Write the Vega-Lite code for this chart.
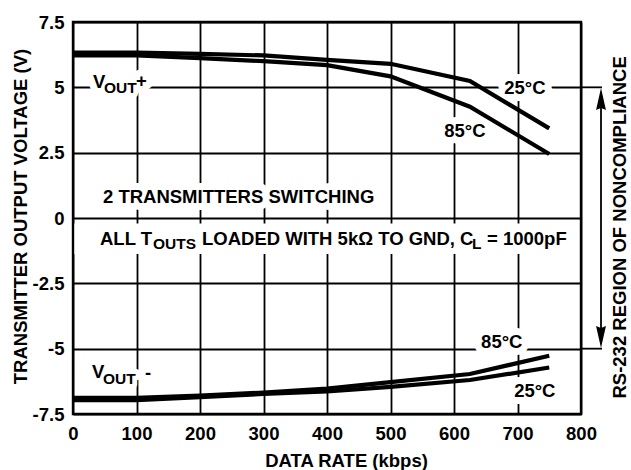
{
  "$schema": "https://vega.github.io/schema/vega-lite/v6.json",
  "width": 508,
  "height": 392,
  "autosize": "none",
  "padding": {"left": 73, "top": 22, "right": 50, "bottom": 56},
  "background": "white",
  "config": {
    "view": {"stroke": null},
    "font": "Liberation Sans",
    "axis": {
      "labelFont": "Liberation Sans", "labelFontSize": 18.5, "labelFontWeight": "bold", "labelColor": "black",
      "titleFont": "Liberation Sans", "titleFontSize": 18.5, "titleFontWeight": "bold", "titleColor": "black",
      "gridColor": "black", "gridWidth": 1.8, "gridOpacity": 1,
      "domain": false, "ticks": false, "tickSize": 0
    }
  },
  "datasets": {
    "curves": [
      {"series": "plus25", "x": 0, "y": 6.33}, {"series": "plus25", "x": 100, "y": 6.33}, {"series": "plus25", "x": 200, "y": 6.28}, {"series": "plus25", "x": 300, "y": 6.22}, {"series": "plus25", "x": 400, "y": 6.05}, {"series": "plus25", "x": 500, "y": 5.9}, {"series": "plus25", "x": 625, "y": 5.24}, {"series": "plus25", "x": 750, "y": 3.43},
      {"series": "plus85", "x": 0, "y": 6.22}, {"series": "plus85", "x": 100, "y": 6.22}, {"series": "plus85", "x": 200, "y": 6.12}, {"series": "plus85", "x": 300, "y": 6.0}, {"series": "plus85", "x": 400, "y": 5.85}, {"series": "plus85", "x": 500, "y": 5.42}, {"series": "plus85", "x": 625, "y": 4.26}, {"series": "plus85", "x": 750, "y": 2.45},
      {"series": "minus85", "x": 0, "y": -6.88}, {"series": "minus85", "x": 100, "y": -6.88}, {"series": "minus85", "x": 200, "y": -6.8}, {"series": "minus85", "x": 300, "y": -6.68}, {"series": "minus85", "x": 400, "y": -6.53}, {"series": "minus85", "x": 500, "y": -6.28}, {"series": "minus85", "x": 625, "y": -5.97}, {"series": "minus85", "x": 750, "y": -5.27},
      {"series": "minus25", "x": 0, "y": -6.97}, {"series": "minus25", "x": 100, "y": -6.97}, {"series": "minus25", "x": 200, "y": -6.86}, {"series": "minus25", "x": 300, "y": -6.73}, {"series": "minus25", "x": 400, "y": -6.64}, {"series": "minus25", "x": 500, "y": -6.46}, {"series": "minus25", "x": 625, "y": -6.2}, {"series": "minus25", "x": 750, "y": -5.72}
    ],
    "labels": [
      {"text": "V", "x": 31.5, "y": 4.97, "kind": "main"},
      {"text": "+", "x": 99.2, "y": 5.01, "kind": "main"},
      {"text": "V", "x": 29.9, "y": -6.12, "kind": "main"},
      {"text": "-", "x": 113.4, "y": -6.16, "kind": "main"},
      {"text": "25°C", "x": 679, "y": 4.74, "kind": "main"},
      {"text": "85°C", "x": 584.5, "y": 3.1, "kind": "main"},
      {"text": "85°C", "x": 642.7, "y": -4.98, "kind": "main"},
      {"text": "25°C", "x": 694.7, "y": -6.85, "kind": "main"},
      {"text": "2 TRANSMITTERS SWITCHING", "x": 47.2, "y": 0.57, "kind": "main"},
      {"text": "OUT", "x": 48.8, "y": 4.78, "kind": "sub"},
      {"text": "OUT", "x": 47.2, "y": -6.35, "kind": "sub"}
    ],
    "note": [
      {"text": "ALL T", "x": 42.5, "y": -1.03, "kind": "main"},
      {"text": "LOADED WITH 5kΩ TO GND, C", "x": 203.1, "y": -1.03, "kind": "main"},
      {"text": "= 1000pF", "x": 652, "y": -1.03, "kind": "main"},
      {"text": "OUTS", "x": 126, "y": -1.19, "kind": "sub"},
      {"text": "L", "x": 628.3, "y": -1.19, "kind": "sub"}
    ],
    "band": [{"x": 0, "x2": 800, "y": -0.21, "y2": -1.38}],
    "frame": [{"x": 0, "x2": 800, "y": -7.5, "y2": 7.5}],
    "ext": [{"x": 800, "x2": 833, "y": 5}, {"x": 800, "x2": 833, "y": -5}],
    "arrowLine": [{"x": 831.5, "y": 4.6, "y2": -4.6}],
    "arrowHeads": [{"x": 831.5, "y": 4.55, "dir": "up"}, {"x": 831.5, "y": -4.55, "dir": "down"}],
    "side": [{"text": "RS-232 REGION OF NONCOMPLIANCE", "x": 861, "y": -0.36}]
  },
  "encoding": {
    "x": {
      "field": "x", "type": "quantitative",
      "scale": {"domain": [0, 800], "nice": false, "zero": false},
      "axis": {
        "values": [0, 100, 200, 300, 400, 500, 600, 700, 800],
        "labelFlush": false, "labelPadding": 10,
        "title": "DATA RATE (kbps)", "titleX": 273, "titleY": 46,
        "titleBaseline": "middle", "titleAlign": "center"
      }
    },
    "y": {
      "field": "y", "type": "quantitative",
      "scale": {"domain": [-7.5, 7.5], "nice": false, "zero": false},
      "axis": {
        "values": [-7.5, -5, -2.5, 0, 2.5, 5, 7.5],
        "labelExpr": "'' + datum.value",
        "labelPadding": 9, "labelFlush": false,
        "title": "TRANSMITTER OUTPUT VOLTAGE (V)", "titleAngle": 270,
        "titleX": -53, "titleY": 194, "titleBaseline": "middle", "titleAlign": "center"
      }
    }
  },
  "layer": [
    {
      "data": {"name": "band"},
      "mark": {"type": "rect", "fill": "white", "stroke": null},
      "encoding": {"x2": {"field": "x2"}, "y2": {"field": "y2"}}
    },
    {
      "data": {"name": "labels"},
      "transform": [{"filter": "datum.kind == 'main'"}],
      "mark": {"type": "text", "align": "left", "baseline": "alphabetic", "font": "Liberation Sans", "fontWeight": "bold", "fontSize": 18.5, "fill": "white", "stroke": "white", "strokeWidth": 14, "strokeJoin": "round"},
      "encoding": {"text": {"field": "text"}}
    },
    {
      "data": {"name": "labels"},
      "transform": [{"filter": "datum.kind == 'sub'"}],
      "mark": {"type": "text", "align": "left", "baseline": "alphabetic", "font": "Liberation Sans", "fontWeight": "bold", "fontSize": 15.5, "fill": "white", "stroke": "white", "strokeWidth": 10, "strokeJoin": "round"},
      "encoding": {"text": {"field": "text"}}
    },
    {
      "data": {"name": "curves"},
      "mark": {"type": "line", "color": "black", "strokeWidth": 4.2},
      "encoding": {"detail": {"field": "series"}}
    },
    {
      "data": {"name": "labels"},
      "transform": [{"filter": "datum.kind == 'main'"}],
      "mark": {"type": "text", "align": "left", "baseline": "alphabetic", "font": "Liberation Sans", "fontWeight": "bold", "fontSize": 18.5, "fill": "black"},
      "encoding": {"text": {"field": "text"}}
    },
    {
      "data": {"name": "labels"},
      "transform": [{"filter": "datum.kind == 'sub'"}],
      "mark": {"type": "text", "align": "left", "baseline": "alphabetic", "font": "Liberation Sans", "fontWeight": "bold", "fontSize": 15.5, "fill": "black"},
      "encoding": {"text": {"field": "text"}}
    },
    {
      "data": {"name": "note"},
      "transform": [{"filter": "datum.kind == 'main'"}],
      "mark": {"type": "text", "align": "left", "baseline": "alphabetic", "font": "Liberation Sans", "fontWeight": "bold", "fontSize": 18.5, "fill": "black"},
      "encoding": {"text": {"field": "text"}}
    },
    {
      "data": {"name": "note"},
      "transform": [{"filter": "datum.kind == 'sub'"}],
      "mark": {"type": "text", "align": "left", "baseline": "alphabetic", "font": "Liberation Sans", "fontWeight": "bold", "fontSize": 15.5, "fill": "black"},
      "encoding": {"text": {"field": "text"}}
    },
    {
      "data": {"name": "ext"},
      "mark": {"type": "rule", "color": "black", "strokeWidth": 1.8},
      "encoding": {"x2": {"field": "x2"}}
    },
    {
      "data": {"name": "arrowLine"},
      "mark": {"type": "rule", "color": "black", "strokeWidth": 1.8},
      "encoding": {"y2": {"field": "y2"}}
    },
    {
      "data": {"name": "arrowHeads"},
      "mark": {"type": "point", "filled": true, "color": "black", "opacity": 1, "size": 484, "strokeWidth": 0},
      "encoding": {
        "shape": {"field": "dir", "type": "nominal", "legend": null,
          "scale": {"domain": ["up", "down"], "range": ["M0,-1L0.45,1L0,0.8L-0.45,1Z", "M0,1L0.45,-1L0,-0.8L-0.45,-1Z"]}}
      }
    },
    {
      "data": {"name": "side"},
      "mark": {"type": "text", "angle": 270, "align": "center", "baseline": "middle", "font": "Liberation Sans", "fontWeight": "bold", "fontSize": 18.5, "fill": "black"},
      "encoding": {"text": {"field": "text"}}
    },
    {
      "data": {"name": "frame"},
      "mark": {"type": "rect", "fill": "white", "fillOpacity": 0, "stroke": "black", "strokeWidth": 2.4},
      "encoding": {"x2": {"field": "x2"}, "y2": {"field": "y2"}}
    }
  ]
}
